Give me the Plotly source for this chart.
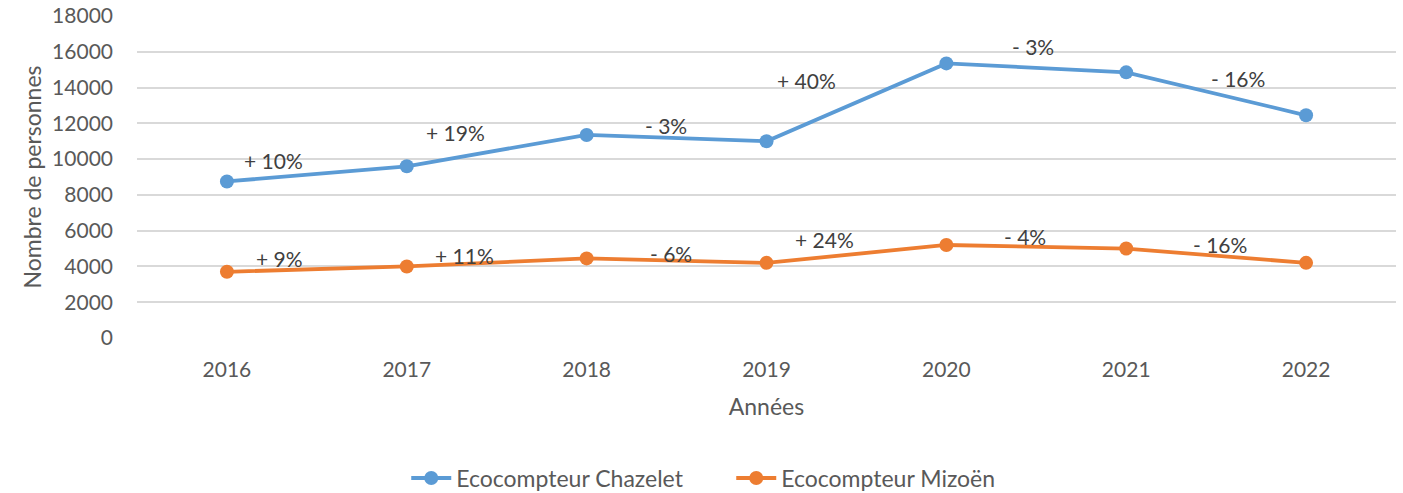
import plotly.graph_objects as go

# ---- data ----
years = ["2016", "2017", "2018", "2019", "2020", "2021", "2022"]
chazelet = [8750, 9600, 11350, 11000, 15350, 14850, 12450]
mizoen = [3700, 4000, 4450, 4200, 5200, 5000, 4200]
chazelet_labels = ["+ 10%", "+ 19%", "- 3%", "+ 40%", "- 3%", "- 16%"]
mizoen_labels = ["+ 9%", "+ 11%", "- 6%", "+ 24%", "- 4%", "- 16%"]
y_ticks = [0, 2000, 4000, 6000, 8000, 10000, 12000, 14000, 16000, 18000]

# ---- label placement (category-index x, data-unit y) ----
chazelet_label_x = [0.26, 1.27, 2.44, 3.22, 4.48, 5.62]
chazelet_label_y = [9950, 11460, 11900, 14370, 16320, 14480]
mizoen_label_x = [0.29, 1.32, 2.47, 3.32, 4.44, 5.52]
mizoen_label_y = [4420, 4640, 4750, 5480, 5650, 5200]

FONT = "Lato, 'Open Sans', sans-serif"
BLUE = "#5B9BD5"
ORANGE = "#ED7D31"
FS = 23      # titles / legend
FS_TICK = 21 # tick labels / data labels
idx = list(range(len(years)))

fig = go.Figure()
fig.add_trace(go.Scatter(
    x=idx, y=chazelet, name="Ecocompteur Chazelet", mode="lines+markers",
    line=dict(color=BLUE, width=3.8), marker=dict(color=BLUE, size=14),
))
fig.add_trace(go.Scatter(
    x=idx, y=mizoen, name="Ecocompteur Mizoën", mode="lines+markers",
    line=dict(color=ORANGE, width=3.8), marker=dict(color=ORANGE, size=14),
))

annotations = []
for labels, lx, ly in [(chazelet_labels, chazelet_label_x, chazelet_label_y),
                       (mizoen_labels, mizoen_label_x, mizoen_label_y)]:
    for t, x, y in zip(labels, lx, ly):
        annotations.append(dict(
            x=x, y=y, xref="x", yref="y", text=t, showarrow=False,
            font=dict(family=FONT, size=FS_TICK, color="#404040"),
            xanchor="center", yanchor="middle",
        ))

fig.update_layout(
    width=1403, height=493,
    margin=dict(l=137, r=7, t=16, b=155, autoexpand=False),
    paper_bgcolor="white", plot_bgcolor="white",
    font=dict(family=FONT, size=FS, color="#595959"),
    showlegend=True,
    legend=dict(
        orientation="h", xref="paper", yref="paper",
        x=0.472, xanchor="center", y=-0.435, yanchor="middle",
        font=dict(family=FONT, size=FS, color="#595959"),
        itemwidth=40, entrywidth=270,
    ),
    annotations=annotations,
)
fig.update_xaxes(
    range=[-0.5, len(years) - 0.5],
    tickmode="array", tickvals=idx, ticktext=years,
    tickfont=dict(size=FS_TICK, color="#595959"),
    showgrid=False, zeroline=False, showline=False,
    ticks="", ticklabelstandoff=17,
    title=dict(text="Années", standoff=18, font=dict(size=FS, color="#595959")),
)
fig.update_yaxes(
    range=[0, 18000], tickmode="array", tickvals=y_ticks,
    ticktext=[str(v) for v in y_ticks],
    tickfont=dict(size=FS_TICK, color="#595959"),
    showgrid=True, gridcolor="#D9D9D9", gridwidth=1.5,
    zeroline=False, showline=False, ticks="", ticklabelstandoff=23,
    title=dict(text="Nombre de personnes", standoff=4, font=dict(size=FS, color="#595959")),
)

fig.write_html("out.html", config={"displayModeBar": False},
               post_script="document.body.style.margin='0';")
